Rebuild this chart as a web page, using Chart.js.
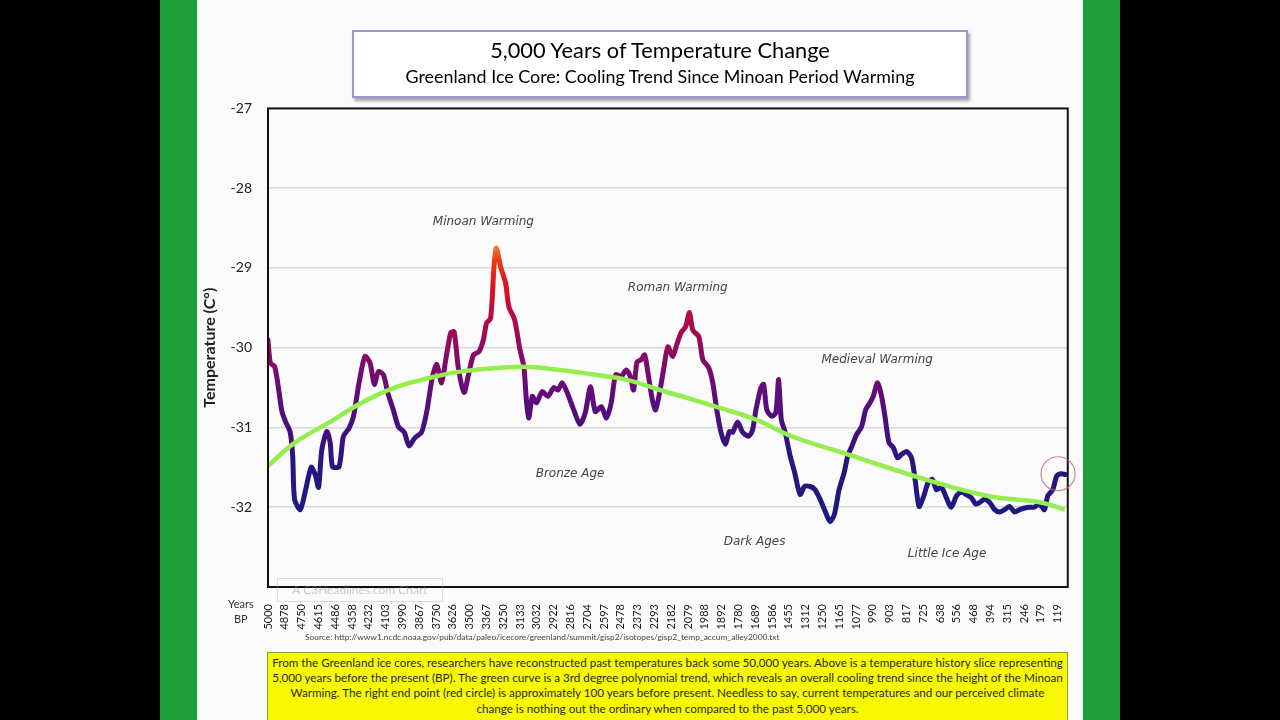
<!DOCTYPE html>
<html>
<head>
<meta charset="utf-8">
<script src="https://cdn.jsdelivr.net/npm/chart.js@4.4.1/dist/chart.umd.min.js"></script>
<style>
  body { margin: 0; width: 1280px; height: 720px; background: #000; overflow: hidden; position: relative; font-family: Lato, "Open Sans", sans-serif; }
  .green { position: absolute; top: 0; height: 720px; background: #1f9e3a; }
  #panel { position: absolute; left: 197px; top: 0; width: 886px; height: 720px; background: #fbfbfb; }
  #titleBox { position: absolute; left: 352px; top: 30px; width: 612px; height: 64px; background: #fff;
    border: 2px solid #9a98cc; box-shadow: 2px 3px 3px rgba(0,0,0,0.35); text-align: center; color: #000; }
  #titleBox .t1 { font-size: 21.8px; margin-top: 5px; line-height: 26px; }
  #titleBox .t2 { font-size: 17.9px; line-height: 24px; margin-top: 1px; }
  #wrap { position: absolute; left: 200px; top: 84px; width: 880px; height: 572px; }
  #years { position: absolute; left: 228px; top: 596px; font-size: 11px; line-height: 15px; color: #333; text-align: center; }
  #mark { position: absolute; left: 277px; top: 578px; width: 164px; height: 22px; border: 1px solid rgba(200,150,150,0.35);
    color: rgba(140,140,140,0.45); font-size: 12px; line-height: 22px; text-align: center; }
  #source { position: absolute; left: 305px; top: 632px; font-size: 8.4px; color: #444; white-space: nowrap; }
  #note { position: absolute; left: 267px; top: 652px; width: 799px; height: 80px; background: #f8f800; border: 1px solid #7f9e30;
    font-size: 11.65px; line-height: 15.2px; color: #2a2a2a; text-align: center; white-space: nowrap; padding-top: 2px; }
</style>
</head>
<body>
<div class="green" style="left:160px;width:37px"></div>
<div class="green" style="left:1083px;width:37px"></div>
<div id="panel"></div>
<div id="wrap"><canvas id="myChart" width="880" height="572"></canvas></div>
<div id="titleBox">
  <div class="t1">5,000 Years of Temperature Change</div>
  <div class="t2">Greenland Ice Core: Cooling Trend Since Minoan Period Warming</div>
</div>
<div id="years">Years<br>BP</div>
<div id="mark">A C3Headlines.com Chart</div>
<div id="source">Source: http://www1.ncdc.noaa.gov/pub/data/paleo/icecore/greenland/summit/gisp2/isotopes/gisp2_temp_accum_alley2000.txt</div>
<div id="note">
From the Greenland ice cores, researchers have reconstructed past temperatures back some 50,000 years. Above is a temperature history slice representing<br>
5,000 years before the present (BP). The green curve is a 3rd degree polynomial trend, which reveals an overall cooling trend since the height of the Minoan<br>
Warming. The right end point (red circle) is approximately 100 years before present. Needless to say, current temperatures and our perceived climate<br>
change is nothing out the ordinary when compared to the past 5,000 years.
</div>

<script>
// years BP shown under the axis, one per label slot
const tickLabels = ['5000', '4878', '4750', '4615', '4486', '4358', '4232', '4103', '3990', '3867', '3750', '3626',
  '3500', '3367', '3250', '3133', '3032', '2922', '2816', '2704', '2597', '2478', '2373', '2293', '2182', '2079',
  '1988', '1892', '1780', '1689', '1586', '1455', '1312', '1250', '1165', '1077', '990', '903', '817', '725',
  '638', '556', '468', '394', '315', '246', '179', '119'];

// ice core temperature, position measured in label slots
const tempPos = [0, 0.14, 0.40, 0.64, 0.83, 1.07, 1.32, 1.47, 1.58, 1.92, 2.21, 2.57, 2.81, 3.01, 3.20, 3.50, 3.70, 3.84,
  4.23, 4.49, 4.82, 5.09, 5.42, 5.77, 6.07, 6.33, 6.57, 6.87, 7.12, 7.46, 7.76, 8.11, 8.39, 8.74, 9.14, 9.44, 9.79,
  10.05, 10.33, 10.58, 10.88, 11.08, 11.32, 11.67, 11.91, 12.23, 12.56, 12.82, 13.01, 13.25, 13.45, 13.59, 13.85,
  14.14, 14.34, 14.68, 15.00, 15.23, 15.39, 15.53, 15.73, 15.98, 16.32, 16.66, 17.01, 17.25, 17.51, 17.80, 18.20,
  18.56, 18.89, 19.19, 19.48, 19.84, 20.14, 20.43, 20.69, 21.03, 21.32, 21.56, 21.76, 21.96, 22.21, 22.42, 22.61,
  22.87, 23.07, 23.31, 23.54, 23.80, 24.09, 24.33, 24.59, 24.85, 25.09, 25.28, 25.64, 25.88, 26.23, 26.47, 26.71,
  26.96, 27.22, 27.46, 27.66, 27.95, 28.25, 28.61, 28.84, 29.04, 29.34, 29.50, 29.69, 29.99, 30.23, 30.39, 30.55,
  30.78, 31.08, 31.34, 31.67, 31.93, 32.27, 32.56, 32.86, 33.16, 33.45, 33.71, 33.99, 34.30, 34.50, 34.74, 35.03,
  35.33, 35.57, 35.83, 36.02, 36.28, 36.52, 36.72, 36.96, 37.21, 37.47, 37.70, 38.00, 38.30, 38.50, 38.75, 39.03,
  39.29, 39.54, 39.78, 40.08, 40.37, 40.67, 40.97, 41.26, 41.56, 41.86, 42.12, 42.36, 42.65, 42.95, 43.25, 43.54,
  43.84, 44.14, 44.43, 44.73, 45.03, 45.32, 45.62, 45.92, 46.21, 46.41, 46.71, 46.94, 47.20, 47.46];
const temps = [-29.90, -30.19, -30.24, -30.53, -30.80, -30.94, -31.06, -31.36, -31.90, -32.03, -31.81, -31.50, -31.59,
  -31.75, -31.28, -31.05, -31.19, -31.49, -31.49, -31.11, -31.01, -30.86, -30.44, -30.11, -30.19, -30.46, -30.30,
  -30.34, -30.56, -30.78, -30.99, -31.06, -31.23, -31.13, -31.06, -30.81, -30.36, -30.21, -30.44, -30.15, -29.81,
  -29.80, -30.24, -30.56, -30.36, -30.09, -30.05, -29.90, -29.69, -29.63, -28.99, -28.75, -28.99, -29.19, -29.49,
  -29.65, -30.03, -30.24, -30.69, -30.88, -30.61, -30.69, -30.55, -30.61, -30.50, -30.53, -30.44, -30.56, -30.78,
  -30.96, -30.81, -30.49, -30.80, -30.74, -30.88, -30.69, -30.34, -30.36, -30.28, -30.36, -30.53, -30.18, -30.15,
  -30.09, -30.31, -30.65, -30.78, -30.56, -30.28, -29.99, -30.11, -29.96, -29.81, -29.74, -29.56, -29.78, -29.86,
  -30.15, -30.25, -30.44, -30.78, -31.06, -31.21, -31.05, -31.06, -30.93, -31.06, -31.11, -31.03, -30.78, -30.50,
  -30.46, -30.78, -30.86, -30.81, -30.40, -30.90, -31.06, -31.36, -31.56, -31.84, -31.74, -31.74, -31.78, -31.90,
  -32.05, -32.18, -32.09, -31.78, -31.56, -31.36, -31.24, -31.09, -30.99, -30.78, -30.69, -30.61, -30.44, -30.61,
  -30.86, -31.19, -31.25, -31.38, -31.34, -31.30, -31.38, -31.63, -31.99, -31.86, -31.69, -31.65, -31.78, -31.75,
  -31.88, -32.00, -31.86, -31.81, -31.84, -31.88, -31.96, -31.94, -31.90, -31.94, -32.03, -32.06, -32.03, -31.99,
  -32.06, -32.03, -32.01, -32.00, -32.00, -31.96, -32.03, -31.86, -31.78, -31.61, -31.58, -31.59];

// 3rd degree polynomial trend
const trendPos = [0, 1.60, 3.62, 5.58, 7.54, 9.61, 11.45, 15.01, 17.39, 19.47, 21.31, 23.32, 25.28, 26.65, 29.02,
  31.16, 34.54, 39.11, 42.85, 45.99, 47.42];
const trendVals = [-31.48, -31.19, -30.94, -30.69, -30.50, -30.38, -30.30, -30.24, -30.28, -30.34, -30.40, -30.53,
  -30.65, -30.74, -30.90, -31.11, -31.34, -31.65, -31.86, -31.94, -32.03];

// period labels: text, slot, temperature
const noteText = ['Minoan Warming', 'Roman Warming', 'Medieval Warming', 'Bronze Age', 'Dark Ages', 'Little Ice Age'];
const notePos = [12.82, 24.39, 36.26, 17.98, 28.96, 40.42];
const noteTemp = [-28.42, -29.25, -30.15, -31.58, -32.43, -32.58];

const yTicks = [-33, -32, -31, -30, -29, -28, -27];

function lineGradient(context) {
  const chart = context.chart;
  const { ctx, chartArea, scales } = chart;
  if (!chartArea) return '#2a1a80';
  const yb = scales.y.getPixelForValue(-32.2);
  const yt = scales.y.getPixelForValue(-28.7);
  const g = ctx.createLinearGradient(0, yb, 0, yt);
  const stops = [[-32.2, '#1b1a80'], [-31.5, '#261680'], [-31.0, '#44107e'], [-30.5, '#660c78'],
    [-30.0, '#900a60'], [-29.6, '#b40c40'], [-29.2, '#de141e'], [-28.9, '#ea3e1c'], [-28.7, '#f08a34']];
  stops.forEach(s => g.addColorStop(Math.min(1, Math.max(0, (s[0] + 32.2) / 3.5)), s[1]));
  return g;
}

const extras = {
  id: 'extras',
  afterDatasetsDraw(chart) {
    const { ctx, chartArea, scales } = chart;
    ctx.save();
    ctx.strokeStyle = '#111';
    ctx.lineWidth = 2;
    ctx.strokeRect(chartArea.left, chartArea.top, chartArea.right - chartArea.left, chartArea.bottom - chartArea.top);

    ctx.font = 'italic 12px "DejaVu Sans"';
    ctx.fillStyle = '#444';
    ctx.textAlign = 'center';
    ctx.textBaseline = 'middle';
    noteText.forEach((t, i) => {
      ctx.fillText(t, scales.x.getPixelForValue(notePos[i]), scales.y.getPixelForValue(noteTemp[i]));
    });

    // red circle round the last reading
    const n = tempPos.length - 2;
    ctx.beginPath();
    ctx.strokeStyle = 'rgba(190,110,110,0.8)';
    ctx.lineWidth = 1.2;
    ctx.arc(scales.x.getPixelForValue(tempPos[n]) - 3, scales.y.getPixelForValue(temps[n]), 17, 0, Math.PI * 2);
    ctx.stroke();
    ctx.restore();
  }
};

const ctx = document.getElementById('myChart');
new Chart(ctx, {
  type: 'line',
  data: {
    datasets: [{
      data: trendPos.map((x, i) => ({ x: x, y: trendVals[i] })),
      borderColor: '#93ee4e',
      borderWidth: 4.5,
      tension: 0.4,
      pointRadius: 0,
      order: 0
    }, {
      data: tempPos.map((x, i) => ({ x: x, y: temps[i] })),
      borderColor: lineGradient,
      borderWidth: 5,
      borderJoinStyle: 'round',
      borderCapStyle: 'round',
      tension: 0.25,
      pointRadius: 0,
      order: 1
    }]
  },
  options: {
    responsive: false,
    animation: false,
    devicePixelRatio: 1,
    layout: { padding: { top: 0, right: 10, left: 0, bottom: 0 } },
    plugins: { legend: { display: false }, tooltip: { enabled: false } },
    scales: {
      x: {
        type: 'linear',
        min: 0,
        max: 47.6,
        grid: { display: false },
        border: { display: false },
        afterBuildTicks: s => { s.ticks = tickLabels.map((_, i) => ({ value: i })); },
        afterFit: s => { s.height = 69; },
        ticks: {
          autoSkip: false,
          minRotation: 90,
          maxRotation: 90,
          padding: 9,
          color: '#1a1a1a',
          font: { family: 'Lato', size: 11 },
          callback: v => tickLabels[v] ?? ''
        }
      },
      y: {
        min: -33,
        max: -27,
        afterBuildTicks: s => { s.ticks = yTicks.map(v => ({ value: v })); },
        afterFit: s => { s.width = 68; },
        grid: { color: '#d9d9d9', lineWidth: 1.5, drawTicks: false },
        border: { display: false },
        ticks: {
          padding: 16,
          color: '#222',
          font: { family: 'Lato', size: 14 },
          callback: v => v === -33 ? '' : v
        },
        title: {
          display: true,
          text: 'Temperature (C°)',
          color: '#222',
          padding: 0,
          font: { family: 'Lato', size: 16, weight: 'bold' }
        }
      }
    }
  },
  plugins: [extras]
});
</script>
</body>
</html>
